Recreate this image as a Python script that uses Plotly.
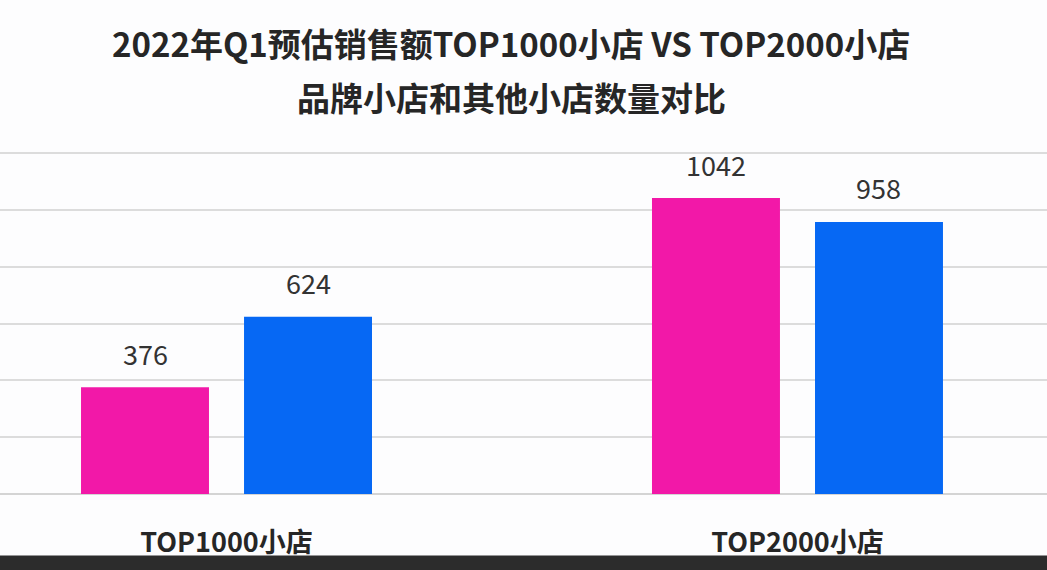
import plotly.graph_objects as go

categories = ["TOP1000小店", "TOP2000小店"]
brand_shops = [376, 1042]
other_shops = [624, 958]
series_names = ["品牌小店", "其他小店"]
title_line1 = "2022年Q1预估销售额TOP1000小店 VS TOP2000小店"
title_line2 = "品牌小店和其他小店数量对比"

PINK = "#F218A8"
BLUE = "#0668F4"
FONT = "Noto Sans CJK SC"

fig = go.Figure()
fig.add_trace(go.Bar(x=categories, y=brand_shops, name=series_names[0],
                     marker=dict(color=PINK, line=dict(width=0))))
fig.add_trace(go.Bar(x=categories, y=other_shops, name=series_names[1],
                     marker=dict(color=BLUE, line=dict(width=0))))

# value labels above bars
for vals, shift in ((brand_shops, -81.5), (other_shops, 81.5)):
    for c, v in zip(categories, vals):
        fig.add_annotation(x=c, y=v, xref="x", yref="y", text=str(v),
                           showarrow=False, xshift=shift, yshift=34,
                           font=dict(family=FONT, size=27, color="#333333"))

# titles
fig.add_annotation(x=0.488, y=1.0, xref="paper", yref="paper", yanchor="middle",
                   yshift=109, text="<b>%s</b>" % title_line1, showarrow=False,
                   font=dict(family=FONT, size=33, color="#262626"))
fig.add_annotation(x=0.489, y=1.0, xref="paper", yref="paper", yanchor="middle",
                   yshift=55, text="<b>%s</b>" % title_line2, showarrow=False,
                   font=dict(family=FONT, size=33, color="#262626"))

fig.update_layout(
    width=1047, height=570, autosize=False,
    margin=dict(l=0, r=0, t=152, b=76),
    paper_bgcolor="#FDFDFE", plot_bgcolor="#FDFDFE",
    showlegend=False,
    barmode="group", bargap=0.429, bargroupgap=0.215,
    font=dict(family=FONT),
    xaxis=dict(type="category", range=[-0.3967, 1.4370], showgrid=False,
               showline=False, ticks="", ticklabelstandoff=30,
               tickvals=categories,
               ticktext=["<b>%s</b>" % c for c in categories],
               tickfont=dict(family=FONT, size=27, color="#262626")),
    yaxis=dict(range=[0, 1204], tickvals=[0, 200, 400, 600, 800, 1000, 1200],
               showticklabels=False,
               gridcolor="#DCDCDC", gridwidth=1.5, zeroline=True,
               zerolinecolor="#D4D4D4", zerolinewidth=2, showline=False),
)

# dark band at bottom of screenshot
fig.add_shape(type="rect", xref="paper", yref="paper", x0=0, x1=1,
              y0=-0.2255, y1=-0.1795, fillcolor="#2C2C2C", line=dict(width=0), layer="above")

fig.write_html("out.html")
